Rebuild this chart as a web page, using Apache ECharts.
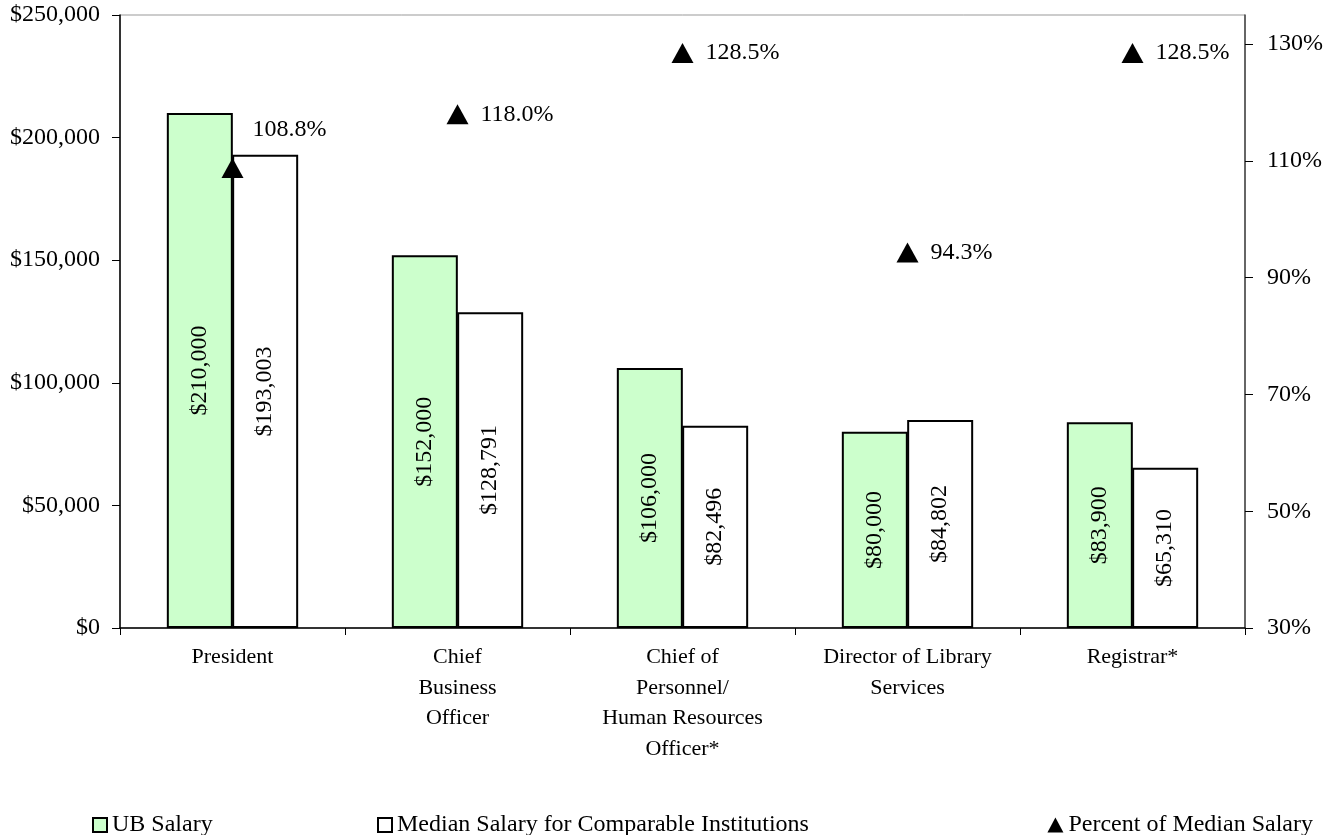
<!DOCTYPE html>
<html>
<head>
<meta charset="utf-8">
<style>
  html, body { margin: 0; padding: 0; background: #fff; }
  #chart { width: 1343px; height: 835px; }
</style>
<script src="https://cdn.jsdelivr.net/npm/echarts@6/dist/echarts.min.js"></script>
</head>
<body>
<div id="chart"></div>
<script>
// Positions compared
const categories = [
  'President',
  'Chief\nBusiness\nOfficer',
  'Chief of\nPersonnel/\nHuman Resources\nOfficer*',
  'Director of Library\nServices',
  'Registrar*'
];
// Salaries in dollars
const ubSalary = [210000, 152000, 106000, 80000, 83900];
const medianSalary = [193003, 128791, 82496, 84802, 65310];
// UB salary as a percent of the median
const percentOfMedian = [108.8, 118.0, 128.5, 94.3, 128.5];

const FONT = '"Liberation Serif", "DejaVu Serif", serif';
const money = v => '$' + Math.round(v).toLocaleString('en-US');

const chart = echarts.init(document.getElementById('chart'), null, { renderer: 'canvas' });

const barLabel = {
  show: true,
  position: 'inside',
  rotate: 90,
  color: '#000',
  fontFamily: FONT,
  fontSize: 24,
  formatter: p => money(p.value)
};

const legendBase = {
  orient: 'horizontal',
  top: 808,
  itemWidth: 14,
  itemHeight: 14,
  itemGap: 6,
  textStyle: { fontFamily: FONT, fontSize: 24, color: '#000' }
};

chart.setOption({
  animation: false,
  backgroundColor: '#fff',
  grid: {
    left: 120, right: 98, top: 15, bottom: 207,
    show: true, borderColor: '#999', borderWidth: 1, backgroundColor: 'transparent'
  },
  legend: [
    Object.assign({}, legendBase, { left: 87, data: [{ name: 'UB Salary', icon: 'rect' }] }),
    Object.assign({}, legendBase, {
      left: 372,
      data: [{ name: 'Median Salary for Comparable Institutions', icon: 'rect' }]
    }),
    Object.assign({}, legendBase, {
      right: 25,
      itemWidth: 16,
      itemHeight: 15,
      data: [{ name: 'Percent of Median Salary', icon: 'triangle' }]
    })
  ],
  xAxis: {
    type: 'category',
    data: categories,
    boundaryGap: true,
    axisLine: { lineStyle: { color: '#000', width: 1.5 } },
    axisTick: { show: true, length: 7, lineStyle: { color: '#000' } },
    axisLabel: {
      color: '#000', fontFamily: FONT, fontSize: 22, lineHeight: 30.5, margin: 14,
      interval: 0
    }
  },
  yAxis: [
    {
      type: 'value',
      min: 0, max: 250000, interval: 50000,
      axisLine: { show: true, lineStyle: { color: '#000', width: 1.5 } },
      axisTick: { show: true, length: 8, lineStyle: { color: '#000' } },
      splitLine: { show: false },
      axisLabel: {
        color: '#000', fontFamily: FONT, fontSize: 24, margin: 20,
        formatter: v => money(v)
      }
    },
    {
      type: 'value',
      position: 'right',
      min: 30, max: 135, interval: 20,
      axisLine: { show: true, lineStyle: { color: '#444', width: 1.5 } },
      axisTick: { show: true, length: 8, lineStyle: { color: '#000' } },
      splitLine: { show: false },
      axisLabel: {
        color: '#000', fontFamily: FONT, fontSize: 24, margin: 22,
        showMaxLabel: false,
        formatter: v => (v > 130 ? '' : v + '%')
      }
    }
  ],
  series: [
    {
      name: 'UB Salary',
      type: 'bar',
      data: ubSalary,
      barWidth: 66,
      barGap: '-1%',
      itemStyle: { color: '#ccffcc', borderColor: '#000', borderWidth: 2 },
      label: barLabel
    },
    {
      name: 'Median Salary for Comparable Institutions',
      type: 'bar',
      data: medianSalary,
      barWidth: 66,
      barGap: '-1%',
      itemStyle: { color: '#fff', borderColor: '#000', borderWidth: 2 },
      label: barLabel
    },
    {
      name: 'Percent of Median Salary',
      type: 'scatter',
      yAxisIndex: 1,
      symbol: 'triangle',
      symbolSize: [22, 20],
      itemStyle: { color: '#000', opacity: 1 },
      z: 5,
      data: percentOfMedian.map((v, i) =>
        i === 0 ? { value: v, label: { distance: 9, offset: [0, -38] } } : v),
      label: {
        show: true,
        position: 'right',
        distance: 12,
        color: '#000',
        fontFamily: FONT,
        fontSize: 24,
        formatter: p => p.value.toFixed(1) + '%'
      }
    }
  ]
});
</script>
</body>
</html>
